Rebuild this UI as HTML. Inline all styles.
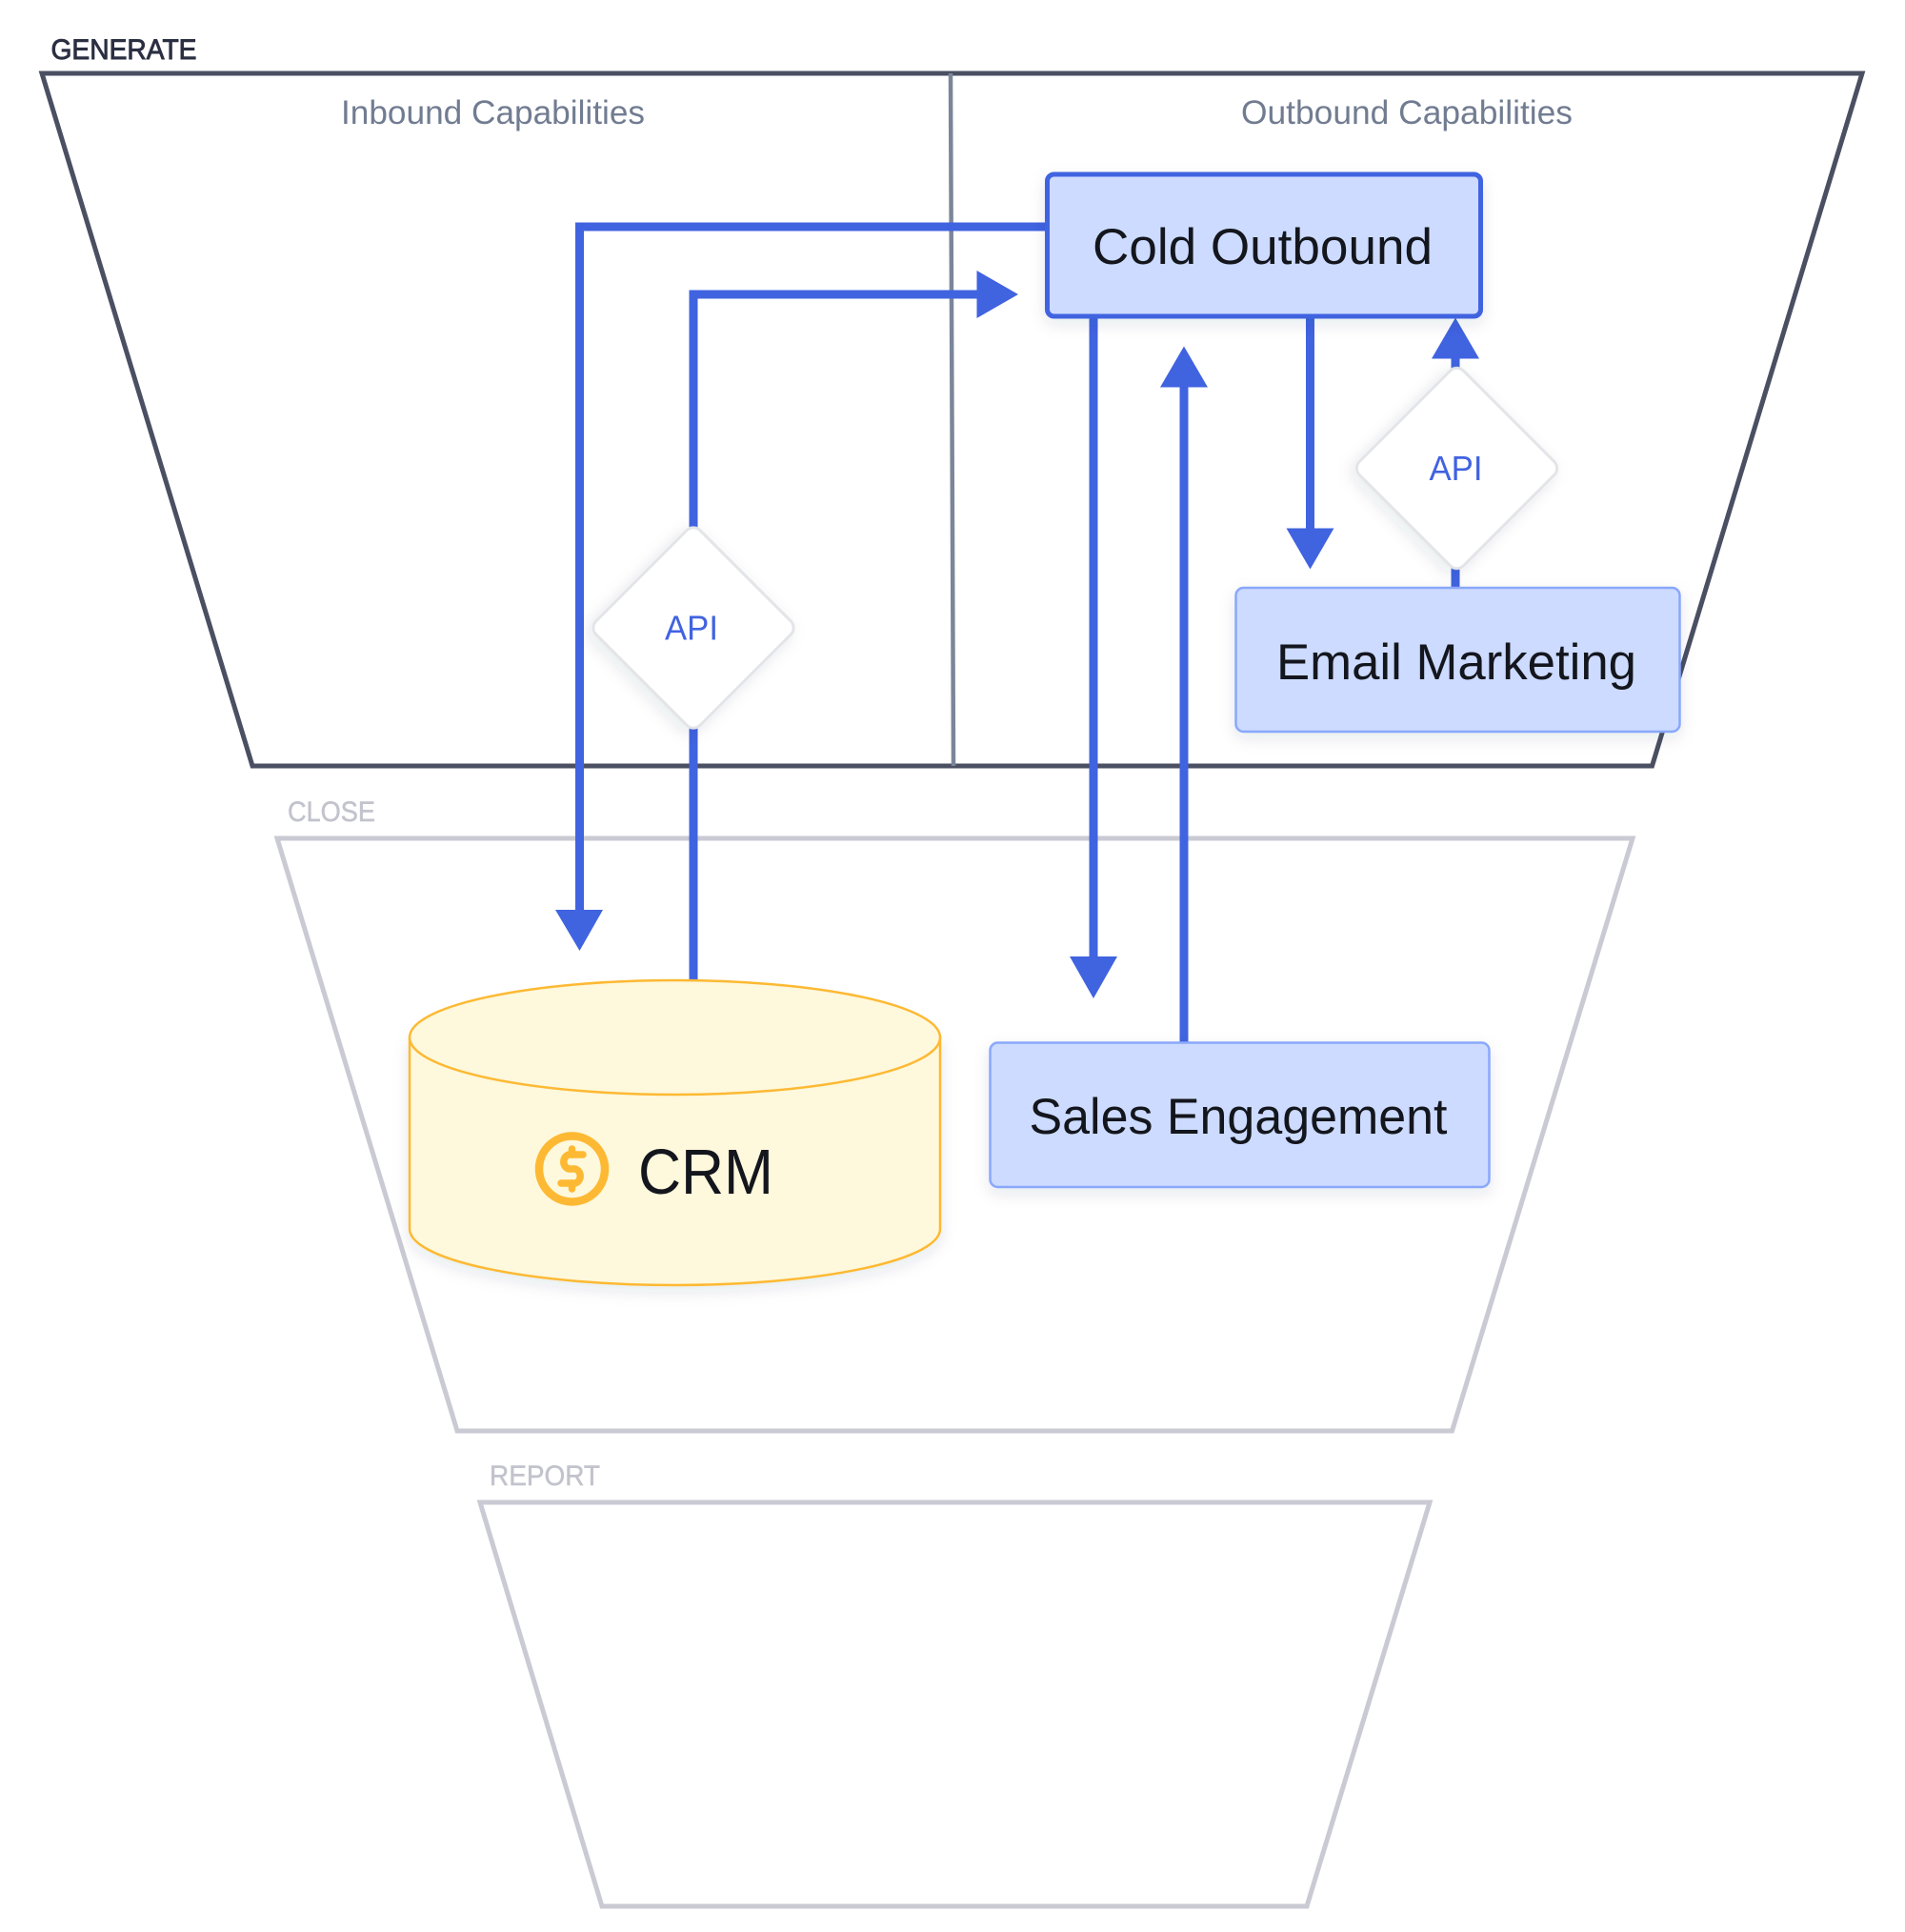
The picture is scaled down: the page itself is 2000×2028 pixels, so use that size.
<!DOCTYPE html>
<html>
<head>
<meta charset="utf-8">
<style>
html,body{margin:0;padding:0;background:#fff;}
svg{display:block;}
text{font-family:"Liberation Sans",sans-serif;}
</style>
</head>
<body>
<svg xmlns="http://www.w3.org/2000/svg" width="2000" height="2028" viewBox="0 0 2000 2028">
<defs>
<filter id="s" x="-20%" y="-20%" width="140%" height="150%">
<feDropShadow dx="0" dy="6" stdDeviation="8" flood-color="#20304f" flood-opacity="0.10"/>
</filter>
</defs>
<rect width="2000" height="2028" fill="#fff"/>

<!-- funnels -->
<polygon points="44,77 1955,77 1734.5,804 265,804" fill="#fff" stroke="#4a4f62" stroke-width="5"/>
<polygon points="291,880 1714,880 1524.5,1502 480,1502" fill="#fff" stroke="#c9cad3" stroke-width="5"/>
<polygon points="504,1577 1501,1577 1372,2001 632,2001" fill="#fff" stroke="#c9cad3" stroke-width="5"/>
<line x1="998" y1="77" x2="1001" y2="804" stroke="#7b8699" stroke-width="4.5"/>

<!-- labels -->
<text x="53.5" y="62" font-size="30" fill="#2b2f42" stroke="#2b2f42" stroke-width="0.9" textLength="153" lengthAdjust="spacingAndGlyphs">GENERATE</text>
<text x="358" y="130" font-size="35" fill="#717c91" textLength="319" lengthAdjust="spacingAndGlyphs">Inbound Capabilities</text>
<text x="1303" y="130" font-size="35" fill="#717c91" textLength="348" lengthAdjust="spacingAndGlyphs">Outbound Capabilities</text>
<text x="302" y="862" font-size="30" fill="#c2c3cc" stroke="#c2c3cc" stroke-width="0.5" textLength="92" lengthAdjust="spacingAndGlyphs">CLOSE</text>
<text x="514" y="1559" font-size="30" fill="#c2c3cc" stroke="#c2c3cc" stroke-width="0.5" textLength="116" lengthAdjust="spacingAndGlyphs">REPORT</text>

<!-- connectors -->
<g fill="none" stroke="#4063e0" stroke-width="9">
<polyline points="1100,238 608.5,238 608.5,960"/>
<polyline points="728,1030 728,309 1030,309"/>
<line x1="1148" y1="333" x2="1148" y2="1010"/>
<line x1="1243" y1="1094" x2="1243" y2="400"/>
<line x1="1375.5" y1="333" x2="1375.5" y2="560"/>
<line x1="1528" y1="617" x2="1528" y2="370"/>
</g>
<g fill="#4063e0">
<polygon points="583,955 633,955 608.5,998"/>
<polygon points="1025.5,284 1025.5,334 1069,309"/>
<polygon points="1123,1004 1173,1004 1148,1048"/>
<polygon points="1218,406.5 1268,406.5 1243,363.5"/>
<polygon points="1350.5,554.5 1400.5,554.5 1375.5,597.5"/>
<polygon points="1503,376.5 1553,376.5 1528,333.5"/>
</g>

<!-- Cold Outbound -->
<rect x="1099.5" y="183" width="455" height="149" rx="7" fill="#ccdbff" stroke="#4063e0" stroke-width="5" filter="url(#s)"/>
<text x="1147" y="277" font-size="53" fill="#14161d" textLength="357" lengthAdjust="spacingAndGlyphs">Cold Outbound</text>

<!-- Email Marketing -->
<rect x="1297.5" y="617" width="466" height="151" rx="8" fill="#ccdbff" stroke="#8aa8fb" stroke-width="2.5" filter="url(#s)"/>
<text x="1340" y="713" font-size="53" fill="#14161d" textLength="378" lengthAdjust="spacingAndGlyphs">Email Marketing</text>

<!-- Sales Engagement -->
<rect x="1039.5" y="1094.5" width="524" height="151.5" rx="8" fill="#ccdbff" stroke="#8aa8fb" stroke-width="2.5" filter="url(#s)"/>
<text x="1080.5" y="1190" font-size="53" fill="#14161d" textLength="439" lengthAdjust="spacingAndGlyphs">Sales Engagement</text>

<!-- API diamonds -->
<rect x="650.7" y="581.7" width="154.6" height="154.6" rx="10" transform="rotate(45 728 659)" fill="#fff" stroke="#e2e4e8" stroke-width="3" filter="url(#s)"/>
<text x="698" y="671.5" font-size="36" fill="#4063e0" textLength="56" lengthAdjust="spacingAndGlyphs">API</text>
<rect x="1452.2" y="414.2" width="154.6" height="154.6" rx="10" transform="rotate(45 1529.5 491.5)" fill="#fff" stroke="#e2e4e8" stroke-width="3" filter="url(#s)"/>
<text x="1500.5" y="504" font-size="36" fill="#4063e0" textLength="56" lengthAdjust="spacingAndGlyphs">API</text>

<!-- CRM cylinder -->
<path d="M430,1089 V1290 A278.5,59 0 0 0 987,1290 V1089 Z" fill="#fef8dc" stroke="#fdb933" stroke-width="2.5" filter="url(#s)"/>
<ellipse cx="708.5" cy="1089" rx="278.5" ry="60" fill="#fef8dc" stroke="#fdb933" stroke-width="2.5"/>
<circle cx="600.5" cy="1227" r="34.5" fill="none" stroke="#fdb933" stroke-width="8.5"/>
<g fill="none" stroke="#fdb933" stroke-width="7.5" stroke-linecap="round" stroke-linejoin="round">
<path d="M612,1212 H597 A8,8 0 0 0 597,1227 H604 A8,8 0 0 1 604,1242 H589"/>
<line x1="600.5" y1="1206" x2="600.5" y2="1212"/>
<line x1="600.5" y1="1242" x2="600.5" y2="1248"/>
</g>
<text x="670" y="1253" font-size="67" fill="#14161d" textLength="142" lengthAdjust="spacingAndGlyphs">CRM</text>
</svg>
</body>
</html>
